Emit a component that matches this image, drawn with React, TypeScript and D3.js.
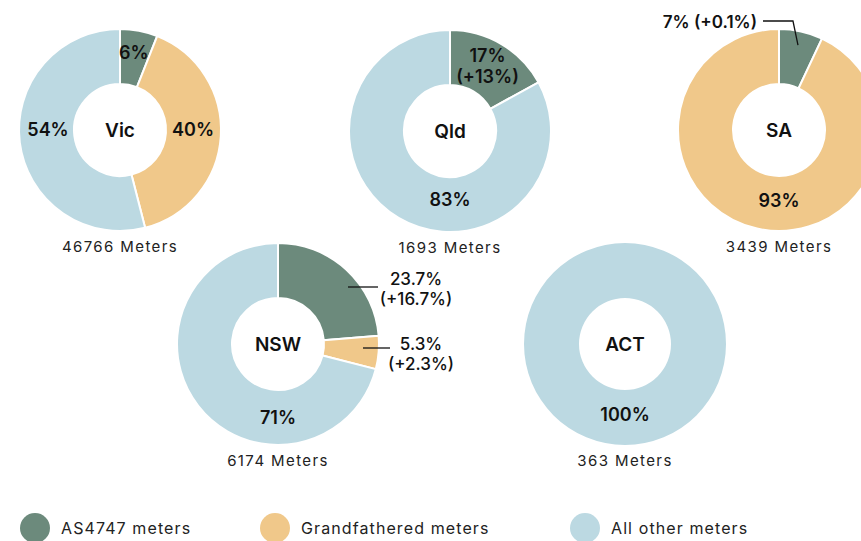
import * as d3 from "d3";
import React, { useMemo } from "react";

// state shares (percent) by meter type
const states = ["Vic", "Qld", "SA", "NSW", "ACT"];
const meterCounts = [46766, 1693, 3439, 6174, 363];
const seriesNames = ["AS4747 meters", "Grandfathered meters", "All other meters"];
const as4747Share = [6, 17, 7, 23.7, 0];
const grandfatheredShare = [40, 0, 93, 5.3, 0];
const otherShare = [54, 83, 0, 71, 100];
const as4747Change = [null, "+13%", "+0.1%", "+16.7%", null];
const grandfatheredChange = [null, null, null, "+2.3%", null];

const colors = ["#6c8a7c", "#f0c88a", "#bcd9e2"];

const width = 861;
const height = 541;
const outerR = 101;
const innerR = 46;
const font = "Inter, 'Noto Sans', sans-serif";

const centers = [
  [120, 130],
  [450, 131],
  [779, 130],
  [278, 344],
  [625, 344],
];

// where each slice label sits: polar (deg, radius) inside, or a callout
const labelLayout = [
  [{ angle: 10, r: 79 }, { angle: 90, r: 73 }, { angle: 270, r: 72 }],
  [{ angle: 30, r: 75 }, null, { angle: 180, r: 69 }],
  [{ callout: "top" }, { angle: 180, r: 71 }, null],
  [
    { callout: "right", line: [70, 100], y: -57, tx: 138, ty: [-8, 12] },
    { callout: "right", line: [85, 112], y: 4, tx: 143, ty: [-4, 16] },
    { angle: 180, r: 74 },
  ],
  [null, null, { angle: 180, r: 71 }],
];

const fmt = (v) => `${v}%`;

const Donut = ({ i }) => {
  const [cx, cy] = centers[i];
  const values = [as4747Share[i], grandfatheredShare[i], otherShare[i]];
  const changes = [as4747Change[i], grandfatheredChange[i], null];

  const arcs = useMemo(
    () =>
      d3
        .pie()
        .sort(null)
        .value((d) => d)(values),
    [i]
  );
  const arc = d3.arc().innerRadius(innerR).outerRadius(outerR);
  const polar = (deg, r) => {
    const a = (deg * Math.PI) / 180;
    return [r * Math.sin(a), -r * Math.cos(a)];
  };

  return (
    <g transform={`translate(${cx},${cy})`}>
      {arcs.map((a, k) =>
        a.value > 0 ? (
          <path
            key={k}
            d={arc(a)}
            fill={colors[k]}
            stroke="#fff"
            strokeWidth={a.value >= 100 ? 0 : 2}
          />
        ) : null
      )}
      {arcs.map((a, k) => {
        const lay = labelLayout[i][k];
        if (!lay || a.value <= 0) return null;
        const text = fmt(values[k]);
        const change = changes[k];
        if (lay.callout === "top") {
          const mid = (a.startAngle + a.endAngle) / 2;
          const end = [87 * Math.sin(mid), -87 * Math.cos(mid)];
          const y = -outerR - 8;
          return (
            <g key={"l" + k}>
              <path
                d={d3.line()([
                  [-16, y],
                  [end[0] - 5, y],
                  end,
                ])}
                fill="none"
                stroke="#111"
                strokeWidth={1.3}
              />
              <text
                x={-22}
                y={y + 1}
                dy="0.36em"
                textAnchor="end"
                fontSize={17}
                fontWeight={600}
                fill="#111"
              >
                {`${text} (${change})`}
              </text>
            </g>
          );
        }
        if (lay.callout === "right") {
          return (
            <g key={"l" + k}>
              <line
                x1={lay.line[0]}
                x2={lay.line[1]}
                y1={lay.y}
                y2={lay.y}
                stroke="#111"
                strokeWidth={1.3}
              />
              <text textAnchor="middle" fontSize={17} fontWeight={500} fill="#111">
                <tspan x={lay.tx} y={lay.y + lay.ty[0]} dy="0.36em">
                  {text}
                </tspan>
                <tspan x={lay.tx} y={lay.y + lay.ty[1]} dy="0.36em">
                  {`(${change})`}
                </tspan>
              </text>
            </g>
          );
        }
        const [x, y] = polar(lay.angle, lay.r);
        return (
          <text key={"l" + k} textAnchor="middle" fontSize={18} fontWeight={600} fill="#111">
            {change ? (
              <>
                <tspan x={x} y={y - 10.5} dy="0.36em">
                  {text}
                </tspan>
                <tspan x={x} y={y + 10.5} dy="0.36em">
                  {`(${change})`}
                </tspan>
              </>
            ) : (
              <tspan x={x} y={y} dy="0.36em">
                {text}
              </tspan>
            )}
          </text>
        );
      })}
      <text
        y={0}
        dy="0.36em"
        textAnchor="middle"
        fontSize={19}
        fontWeight={600}
        fill="#111"
      >
        {states[i]}
      </text>
      <text
        y={outerR + 21}
        textAnchor="middle"
        fontSize={15}
        letterSpacing={1.4}
        fill="#222"
      >
        {`${meterCounts[i]} Meters`}
      </text>
    </g>
  );
};

const legendX = [35, 275, 585];

export default function App() {
  return (
    <svg
      width={width}
      height={height}
      style={{ position: "absolute", left: 0, top: 0, background: "#fff" }}
      fontFamily={font}
    >
      {states.map((s, i) => (
        <Donut key={s} i={i} />
      ))}
      {seriesNames.map((name, k) => (
        <g key={name} transform={`translate(${legendX[k]},528)`}>
          <circle r={15} fill={colors[k]} />
          <text x={26} y={6} fontSize={16} letterSpacing={1.1} fill="#222">
            {name}
          </text>
        </g>
      ))}
    </svg>
  );
}
